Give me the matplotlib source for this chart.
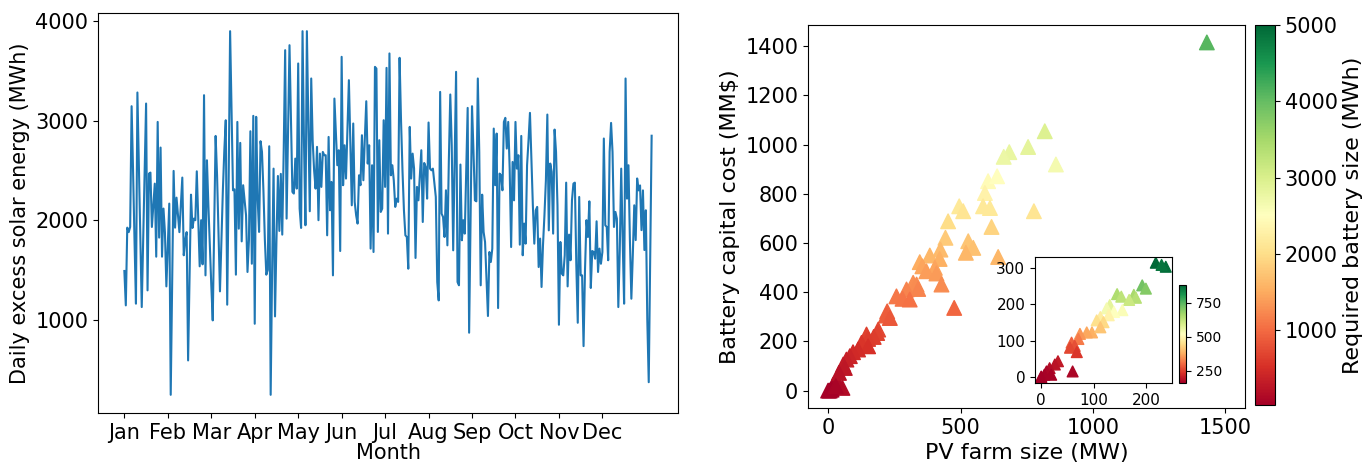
import numpy as np
import matplotlib.pyplot as plt
from matplotlib.ticker import MultipleLocator

months = ['Jan', 'Feb', 'Mar', 'Apr', 'May', 'Jun', 'Jul', 'Aug', 'Sep', 'Oct', 'Nov', 'Dec']

# daily excess solar energy (MWh), one value per day
excess = [
    1489, 1143, 1925, 1880, 1932, 3147, 2500, 1800, 1160, 3285,
    2550, 1800, 1126, 1800, 2500, 3174, 1294, 2469, 2479, 1932,
    2150, 2368, 1633, 2989, 1825, 2731, 1633, 2117, 1880, 1334,
    1750, 2167, 243, 1400, 2496, 1925, 2227, 2050, 1880, 2150,
    2429, 1647, 1798, 1880, 589, 1400, 2257, 1922, 2016, 2000,
    2492, 2000, 1536, 2000, 1556, 3258, 1445, 2603, 2150,
    1750, 1350, 992, 1900, 2848, 2450, 1850, 1284, 1800, 2300,
    2700, 3006, 1150, 2400, 3902, 3100, 2301, 2311, 1452, 2989,
    1915, 2778, 1787, 2352, 2200, 2050, 1479, 1800, 2895, 1562,
    3050, 958, 3040, 2217, 1882, 2795, 2687, 2300, 1800, 1452,
    1500, 2744, 243, 1500, 2519, 1032, 1800, 2445, 1892, 2466,
    1855, 2700, 3711, 2016, 2900, 3761, 3000, 2285, 2268,
    2620, 2318, 3577, 2117, 1922, 3902, 2788, 1949, 3902, 3000,
    2090, 3426, 2800, 2500, 2318, 2738, 2000, 2670, 2335, 2687,
    2654, 2654, 1848, 2838, 2100, 2385, 1445, 3224, 2900, 2553,
    2704, 1690, 3644, 2352, 2754, 2419, 2900, 3409, 2800, 2150,
    2973, 2184, 2050, 1966, 2452, 2352, 2855, 2402, 2822, 3197,
    2570, 2754, 1714, 2553, 1680, 3543, 3526, 1882, 2805,
    2083, 2117, 3006, 2335, 3533, 1865, 3678, 2452, 2553, 2400,
    2134, 2217, 2184, 3634, 3000, 2500, 2100, 1848, 1831, 1512,
    2939, 2419, 2670, 2519, 1620, 2335, 2200, 2450, 2704, 1982,
    2576, 2536, 2217, 2983, 2519, 2502, 2519, 2380, 2234, 1378,
    1193, 3291, 2066, 2033, 1831, 2301, 1747, 2600, 3265,
    2754, 1697, 2600, 3493, 1378, 1345, 2560, 1798, 2000, 1865,
    2500, 3130, 868, 2000, 3147, 2700, 2200, 2190, 3426, 2687,
    1345, 2257, 1882, 1781, 1400, 1036, 1680, 1580, 1714, 2922,
    2352, 2872, 1116, 2469, 2452, 2301, 2989, 3030, 2721, 2989,
    2519, 1730, 2586, 2200, 2989, 2519, 2654, 1754, 2848,
    1647, 1966, 1764, 2553, 2800, 3080, 2600, 2150, 1764, 2100,
    2134, 1529, 1815, 1328, 1750, 2050, 2400, 3063, 1898, 2570,
    2486, 1865, 2912, 2687, 2150, 948, 1781, 1462, 1445,
    1647, 2378, 1334, 1855, 1597, 2200, 2368, 2378, 1550, 968,
    2234, 1445, 1445, 733, 1500, 2000, 1831, 2190, 1318, 1690,
    1680, 1613, 1989, 1479, 1714, 1562, 1680, 2822, 1949,
    1932, 1597, 2687, 2979, 2687, 1932, 2083, 2016, 1126, 1700,
    2519, 1800, 1160, 3426, 2217, 2553,
    1800, 1210, 1650, 2150, 1800, 2420, 2300, 2350, 1900, 2300,
    1700, 2100, 1000, 370, 1600, 2850,
]

# PV farm size (MW), battery capital cost (MM$), required battery size (MWh)
pv_size = [1430, 818, 860, 755, 684, 663, 604, 638, 592, 585, 611, 495, 510, 453,
           617, 777, 443, 529, 548, 520, 424, 384, 421, 642, 346, 356, 403, 371,
           409, 321, 334, 428, 296, 340, 258, 281, 308, 476, 223, 218, 233, 189,
           185, 172, 145, 151, 126, 151, 113, 94, 82, 69, 57, 63, 54, 31, 19, 6,
           0, 13, 41, 29]
cost = [1415, 1054, 919, 990, 969, 950, 851, 871, 803, 749, 742, 749, 729, 688,
        665, 729, 621, 607, 580, 560, 573, 549, 535, 543, 522, 505, 499, 485,
        476, 438, 431, 431, 411, 413, 383, 373, 370, 336, 322, 305, 295, 248,
        234, 218, 228, 210, 194, 180, 167, 156, 140, 126, 106, 92, 11, 45, 24, 0,
        0, 4, 72, 18]
battery = [4100, 2950, 2650, 2850, 2800, 2750, 2450, 2500, 2300, 2150, 2150, 2150,
           2100, 2000, 1900, 2100, 1800, 1750, 1700, 1600, 1650, 1600, 1550, 1600,
           1500, 1450, 1450, 1400, 1380, 1270, 1250, 1250, 1200, 1200, 1100, 1080,
           1070, 970, 930, 880, 850, 720, 680, 630, 660, 610, 560, 520, 480, 450,
           400, 360, 300, 270, 150, 130, 70, 20, 20, 30, 210, 60]

# inset: small farms
pv_small = [219, 238, 230, 193, 200, 177, 181, 145, 153, 168, 131, 125, 155, 139,
            129, 113, 106, 119, 97, 87, 113, 74, 71, 58, 64, 55, 68, 32, 26, 16,
            10, 0, 6, 0, 60, 19]
cost_small = [314, 303, 308, 252, 243, 226, 218, 228, 221, 212, 198, 189, 184, 179,
              170, 165, 156, 151, 123, 123, 137, 119, 105, 95, 86, 81, 69, 44, 35,
              25, 16, 2, 7, 0, 16, 7]
battery_small = [880, 870, 860, 720, 700, 660, 640, 650, 630, 610, 570, 540, 530,
                 520, 490, 480, 450, 440, 380, 370, 410, 350, 320, 290, 270, 260,
                 240, 200, 190, 180, 170, 160, 165, 160, 170, 165]

W, H = 1372, 467
fig = plt.figure(figsize=(W / 100, H / 100), dpi=100)

def box(l, t, r, b):
    return [l / W, 1 - b / H, (r - l) / W, (b - t) / H]

# left: daily series
ax1 = fig.add_axes(box(98, 13, 678, 413))
ax1.plot(np.arange(len(excess)), excess, color='#1f77b4', lw=1.5)
ax1.set_xticks(np.arange(0, 360, 30))
ax1.set_xticklabels(months)
ax1.yaxis.set_major_locator(MultipleLocator(1000))
ax1.set_xlabel('Month', fontsize=15, labelpad=0)
ax1.set_ylabel('Daily excess solar energy (MWh)', fontsize=15)
ax1.tick_params(labelsize=15)

# right: scatter
ax2 = fig.add_axes(box(808, 25, 1245, 408))
sc = ax2.scatter(pv_size, cost, c=battery, cmap='RdYlGn', vmin=20, vmax=5000,
                 marker='^', s=110)
ax2.set_xlim(-76, 1574)
ax2.set_xticks([0, 500, 1000, 1500])
ax2.set_xlabel('PV farm size (MW)', fontsize=16)
ax2.set_ylabel('Battery capital cost (MM$)', fontsize=16)
ax2.tick_params(labelsize=15)

cax = fig.add_axes(box(1255, 25, 1275, 405))
cb = fig.colorbar(sc, cax=cax)
cb.set_ticks([1000, 2000, 3000, 4000, 5000])
cb.ax.tick_params(labelsize=15)
cb.set_label('Required battery size (MWh)', fontsize=16)

# inset
axi = fig.add_axes(box(1035, 257, 1172, 383))
sci = axi.scatter(pv_small, cost_small, c=battery_small, cmap='RdYlGn',
                  marker='^', s=60)
axi.tick_params(labelsize=11)
axi.set_xticks([0, 100, 200])
axi.set_yticks([0, 100, 200, 300])
caxi = fig.add_axes(box(1179, 285, 1186, 383))
cbi = fig.colorbar(sci, cax=caxi)
cbi.set_ticks([250, 500, 750])
cbi.ax.tick_params(labelsize=10)

fig.savefig('out.png', dpi=100)
